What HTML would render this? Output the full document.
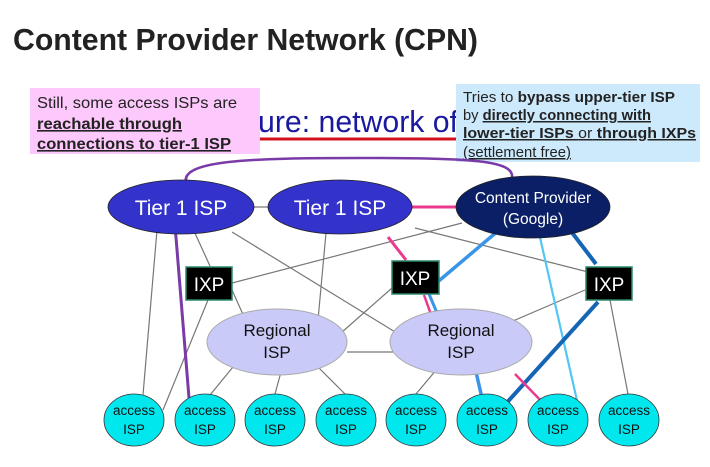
<!DOCTYPE html>
<html><head><meta charset="utf-8"><style>
html,body{margin:0;padding:0;background:#fff;}
svg{display:block;font-family:"Liberation Sans",Arial,sans-serif;}
</style></head><body>
<svg width="710" height="467" viewBox="0 0 710 467" xmlns="http://www.w3.org/2000/svg">
<rect width="710" height="467" fill="#fff"/>
<text x="13" y="50" font-size="31" font-weight="bold" fill="#222" textLength="465" lengthAdjust="spacingAndGlyphs">Content Provider Network (CPN)</text>

<text x="258" y="132" font-size="31" fill="#1a1aa0" textLength="200" lengthAdjust="spacingAndGlyphs">ure: network of</text>
<line x1="258" y1="139" x2="458" y2="139" stroke="#d0101a" stroke-width="3"/>

<rect x="30" y="88" width="230" height="66" fill="#fdc8fb"/>
<text font-size="16" fill="#222">
<tspan x="37" y="108" textLength="200" lengthAdjust="spacingAndGlyphs">Still, some access ISPs are</tspan>
<tspan x="37" y="129" font-weight="bold" text-decoration="underline" textLength="145" lengthAdjust="spacingAndGlyphs">reachable through</tspan>
<tspan x="37" y="149" font-weight="bold" text-decoration="underline" textLength="194" lengthAdjust="spacingAndGlyphs">connections to tier-1 ISP</tspan>
</text>
<rect x="456" y="84" width="244" height="78" fill="#cdeafc"/>
<text font-size="15" fill="#222">
<tspan x="463" y="102" textLength="212" lengthAdjust="spacingAndGlyphs">Tries to <tspan font-weight="bold">bypass upper-tier ISP</tspan></tspan>
<tspan x="463" y="120" textLength="188" lengthAdjust="spacingAndGlyphs">by <tspan font-weight="bold" text-decoration="underline">directly connecting with</tspan></tspan>
<tspan x="463" y="138" font-weight="bold" text-decoration="underline" textLength="233" lengthAdjust="spacingAndGlyphs">lower-tier ISPs <tspan font-weight="normal">or</tspan> through IXPs</tspan>
<tspan x="463" y="157" text-decoration="underline" textLength="108" lengthAdjust="spacingAndGlyphs">(settlement free)</tspan>
</text>

<path d="M187,185 C175,160 250,158 360,158 C470,158 515,160 512,178" fill="none" stroke="#7a3aa8" stroke-width="2.5"/>

<g stroke="#777" stroke-width="1.2" fill="none">
<line x1="254" y1="207" x2="282" y2="207"/>
<line x1="157" y1="230" x2="143" y2="395"/>
<line x1="194" y1="231" x2="210" y2="266"/>
<line x1="232" y1="232" x2="400" y2="335"/>
<line x1="326" y1="233" x2="318" y2="320"/>
<line x1="415" y1="228" x2="600" y2="275"/>
<line x1="462" y1="223" x2="232" y2="283"/>
<line x1="208" y1="300" x2="163" y2="410"/>
<line x1="232" y1="290" x2="250" y2="330"/>
<line x1="392" y1="288" x2="333" y2="340"/>
<line x1="585" y1="290" x2="492" y2="330"/>
<line x1="610" y1="300" x2="628" y2="394"/>
<line x1="347" y1="352" x2="393" y2="352"/>
<line x1="233" y1="367" x2="210" y2="395"/>
<line x1="281" y1="372" x2="275" y2="394"/>
<line x1="316" y1="365" x2="345" y2="394"/>
<line x1="437" y1="369" x2="416" y2="394"/>
</g>

<line x1="175" y1="225" x2="189" y2="398" stroke="#7a3aa8" stroke-width="3"/>
<line x1="408" y1="207" x2="456" y2="207" stroke="#ea3a8e" stroke-width="3"/>
<line x1="388" y1="237" x2="406" y2="260" stroke="#ea3a8e" stroke-width="3"/>
<line x1="424" y1="295" x2="433" y2="320" stroke="#ea3a8e" stroke-width="2.5"/>
<line x1="429" y1="294" x2="440" y2="320" stroke="#3a95e8" stroke-width="3"/>
<line x1="505" y1="225" x2="434" y2="285" stroke="#3a95e8" stroke-width="3.5"/>
<line x1="476" y1="372" x2="482" y2="398" stroke="#3a95e8" stroke-width="3.5"/>
<line x1="539" y1="233" x2="578" y2="405" stroke="#52c6f5" stroke-width="2.2"/>
<line x1="567" y1="226" x2="596" y2="264" stroke="#1565b5" stroke-width="4"/>
<line x1="598" y1="302" x2="502" y2="408" stroke="#1565b5" stroke-width="4"/>
<line x1="515" y1="374" x2="546" y2="406" stroke="#ea3a8e" stroke-width="2.5"/>

<ellipse cx="181" cy="207" rx="73" ry="27" fill="#3333cc" stroke="#222" stroke-width="0.8"/>
<text x="181" y="215" font-size="21" fill="#fff" text-anchor="middle">Tier 1 ISP</text>
<ellipse cx="340" cy="207" rx="72" ry="27" fill="#3333cc" stroke="#222" stroke-width="0.8"/>
<text x="340" y="215" font-size="21" fill="#fff" text-anchor="middle">Tier 1 ISP</text>
<ellipse cx="533" cy="207" rx="77" ry="31" fill="#0a1f66" stroke="#222" stroke-width="0.8"/>
<text x="533" y="203" font-size="15.5" fill="#fff" text-anchor="middle">Content Provider</text>
<text x="533" y="224" font-size="15.5" fill="#fff" text-anchor="middle">(Google)</text>

<g font-size="19" fill="#fff" text-anchor="middle">
<rect x="186" y="267" width="46" height="33" fill="#000" stroke="#2a8a6a" stroke-width="1.5"/>
<text x="209" y="291">IXP</text>
<rect x="392" y="261" width="47" height="33" fill="#000" stroke="#2a8a6a" stroke-width="1.5"/>
<text x="415" y="285">IXP</text>
<rect x="586" y="267" width="46" height="33" fill="#000" stroke="#2a8a6a" stroke-width="1.5"/>
<text x="609" y="291">IXP</text>
</g>

<ellipse cx="277" cy="342" rx="70" ry="33" fill="#c9caf8" stroke="#aaa" stroke-width="1"/>
<text x="277" y="336" font-size="17" fill="#111" text-anchor="middle">Regional</text>
<text x="277" y="358" font-size="17" fill="#111" text-anchor="middle">ISP</text>
<ellipse cx="461" cy="342" rx="71" ry="33" fill="#c9caf8" stroke="#aaa" stroke-width="1"/>
<text x="461" y="336" font-size="17" fill="#111" text-anchor="middle">Regional</text>
<text x="461" y="358" font-size="17" fill="#111" text-anchor="middle">ISP</text>

<g font-size="13.5" fill="#111" text-anchor="middle">
<ellipse cx="134" cy="420" rx="30" ry="26" fill="#00e8ee" stroke="#333" stroke-width="0.8"/><text x="134" y="415">access</text><text x="134" y="434">ISP</text>
<ellipse cx="205" cy="420" rx="30" ry="26" fill="#00e8ee" stroke="#333" stroke-width="0.8"/><text x="205" y="415">access</text><text x="205" y="434">ISP</text>
<ellipse cx="275" cy="420" rx="30" ry="26" fill="#00e8ee" stroke="#333" stroke-width="0.8"/><text x="275" y="415">access</text><text x="275" y="434">ISP</text>
<ellipse cx="346" cy="420" rx="30" ry="26" fill="#00e8ee" stroke="#333" stroke-width="0.8"/><text x="346" y="415">access</text><text x="346" y="434">ISP</text>
<ellipse cx="416" cy="420" rx="30" ry="26" fill="#00e8ee" stroke="#333" stroke-width="0.8"/><text x="416" y="415">access</text><text x="416" y="434">ISP</text>
<ellipse cx="487" cy="420" rx="30" ry="26" fill="#00e8ee" stroke="#333" stroke-width="0.8"/><text x="487" y="415">access</text><text x="487" y="434">ISP</text>
<ellipse cx="558" cy="420" rx="30" ry="26" fill="#00e8ee" stroke="#333" stroke-width="0.8"/><text x="558" y="415">access</text><text x="558" y="434">ISP</text>
<ellipse cx="629" cy="420" rx="30" ry="26" fill="#00e8ee" stroke="#333" stroke-width="0.8"/><text x="629" y="415">access</text><text x="629" y="434">ISP</text>
</g>
</svg>
</body></html>
